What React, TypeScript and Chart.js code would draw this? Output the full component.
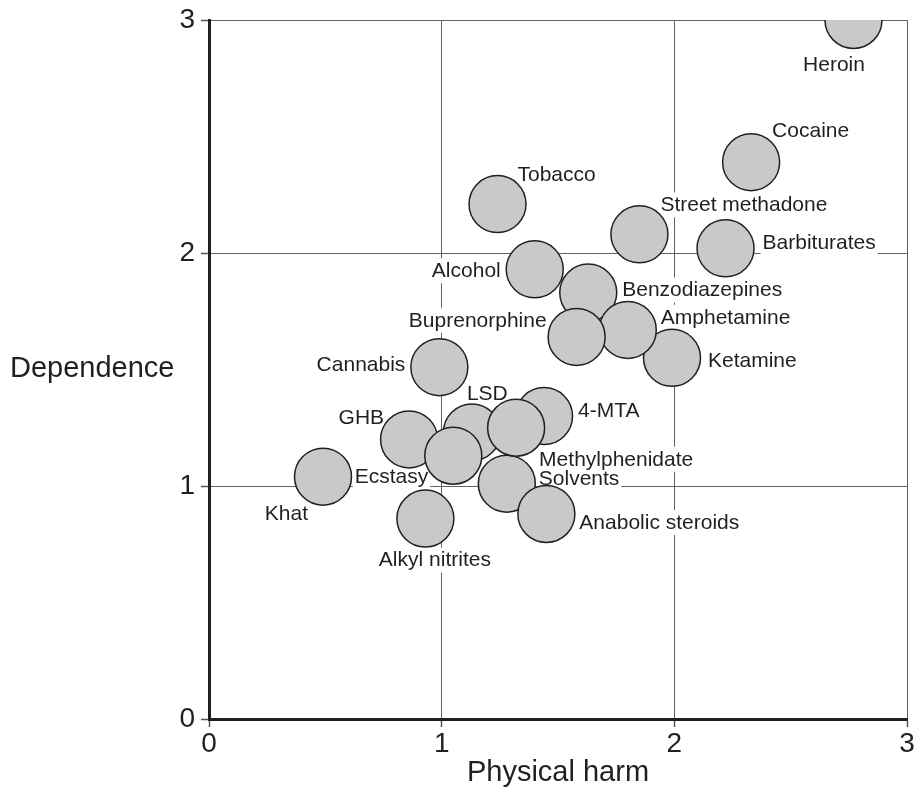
import React, { useEffect, useRef } from 'react';
import { Chart, registerables } from 'chart.js';

Chart.register(...registerables);

// ---- data ----
const drugs = [
  'Heroin', 'Cocaine', 'Barbiturates', 'Street methadone', 'Alcohol', 'Ketamine',
  'Benzodiazepines', 'Amphetamine', 'Tobacco', 'Buprenorphine', 'Cannabis', 'Solvents',
  '4-MTA', 'LSD', 'Methylphenidate', 'Anabolic steroids', 'GHB', 'Ecstasy',
  'Alkyl nitrites', 'Khat',
];
const physicalHarm = [
  2.77, 2.33, 2.22, 1.85, 1.40, 1.99,
  1.63, 1.80, 1.24, 1.58, 0.99, 1.28,
  1.44, 1.13, 1.32, 1.45, 0.86, 1.05,
  0.93, 0.49,
];
const dependence = [
  3.00, 2.39, 2.02, 2.08, 1.93, 1.55,
  1.83, 1.67, 2.21, 1.64, 1.51, 1.01,
  1.30, 1.23, 1.25, 0.88, 1.20, 1.13,
  0.86, 1.04,
];
const axisTicks = [0, 1, 2, 3];
const xTitle = 'Physical harm';
const yTitle = 'Dependence';

// ---- label placement (style: pixel offsets from bubble centre) ----
const labelOffsets: [number, number, 'left' | 'right' | 'center'][] = [
  [-19.5, 43.5, 'center'], // Heroin
  [21, -33, 'left'],       // Cocaine
  [37, -7, 'left'],        // Barbiturates
  [21, -31, 'left'],       // Street methadone
  [-34, 0, 'right'],       // Alcohol
  [36, 1, 'left'],         // Ketamine
  [34, -4, 'left'],        // Benzodiazepines
  [33, -14, 'left'],       // Amphetamine
  [20, -31, 'left'],       // Tobacco
  [-30, -18, 'right'],     // Buprenorphine
  [-34, -4, 'right'],      // Cannabis
  [32, -6, 'left'],        // Solvents
  [34, -7, 'left'],        // 4-MTA
  [-5, -40, 'left'],       // LSD
  [23, 30, 'left'],        // Methylphenidate
  [33, 7, 'left'],         // Anabolic steroids
  [-25, -23, 'right'],     // GHB
  [-25, 19, 'right'],      // Ecstasy
  [9.5, 40, 'center'],     // Alkyl nitrites
  [-15, 36, 'right'],      // Khat
];

const FONT = '"Liberation Sans", Arial, Helvetica, sans-serif';
const TEXT = '#231f20';

export default function App() {
  const ref = useRef<HTMLCanvasElement>(null);

  useEffect(() => {
    document.body.style.margin = '0';
    const canvas = ref.current!;

    const labelPlugin = {
      id: 'drugLabels',
      beforeDatasetsDraw(chart: any) {
        const ctx = chart.ctx as CanvasRenderingContext2D;
        const meta = chart.getDatasetMeta(0);
        ctx.save();
        ctx.font = `21px ${FONT}`;
        ctx.textBaseline = 'middle';
        ctx.textAlign = 'left';
        const items = meta.data.map((pt: any, i: number) => {
          const [dx, dy, align] = labelOffsets[i];
          const text = drugs[i];
          const w = ctx.measureText(text).width;
          const ax = pt.x + dx;
          const ay = pt.y + dy + 2;
          const left = align === 'left' ? ax : align === 'right' ? ax - w : ax - w / 2;
          return { text, w, left, ay };
        });
        ctx.fillStyle = '#ffffff';
        items.forEach((it: any) => ctx.fillRect(it.left - 2, it.ay - 13, it.w + 4, 25));
        ctx.fillStyle = TEXT;
        items.forEach((it: any) => ctx.fillText(it.text, it.left, it.ay));
        ctx.restore();
      },
    };

    const yTitlePlugin = {
      id: 'yTitleHorizontal',
      afterDraw(chart: any) {
        const ctx = chart.ctx as CanvasRenderingContext2D;
        ctx.save();
        ctx.font = `29px ${FONT}`;
        ctx.fillStyle = TEXT;
        ctx.textAlign = 'left';
        ctx.textBaseline = 'alphabetic';
        const cy = (chart.chartArea.top + chart.chartArea.bottom) / 2;
        ctx.fillText(yTitle, 10, cy + 7.5);
        ctx.restore();
      },
    };

    const tickFont = { family: FONT, size: 28 };

    const chart = new Chart(canvas, {
      type: 'scatter',
      data: {
        datasets: [
          {
            label: 'Drugs',
            data: physicalHarm.map((x, i) => ({ x, y: dependence[i] })),
            pointRadius: 28.5,
            pointHoverRadius: 28.5,
            pointBackgroundColor: '#c8c9cb',
            pointBorderColor: '#231f20',
            pointBorderWidth: 1.5,
            pointHoverBorderWidth: 1.5,
            clip: 0,
          } as any,
        ],
      },
      options: {
        animation: false,
        responsive: false,
        events: [],
        layout: { autoPadding: false, padding: { top: 20, right: 8, left: 0, bottom: 0 } },
        plugins: {
          legend: { display: false },
          tooltip: { enabled: false },
        },
        scales: {
          x: {
            type: 'linear',
            min: 0,
            max: 3,
            afterBuildTicks: (s: any) => {
              s.ticks = axisTicks.map((v) => ({ value: v }));
            },
            ticks: { font: tickFont, color: TEXT, padding: 0, maxRotation: 0 },
            grid: { color: '#626262', lineWidth: 1, tickLength: 8, tickColor: '#555', tickWidth: 1.5 },
            border: { color: '#231f20', width: 3 },
            title: {
              display: true,
              text: xTitle,
              font: { family: FONT, size: 29 },
              color: TEXT,
              padding: { top: 0, bottom: 1 },
            },
            afterFit: (s: any) => {
              s.height = 72;
              s.paddingLeft = 0;
              s.paddingRight = 0;
            },
          },
          y: {
            type: 'linear',
            min: 0,
            max: 3,
            afterBuildTicks: (s: any) => {
              s.ticks = axisTicks.map((v) => ({ value: v }));
            },
            ticks: { font: tickFont, color: TEXT, padding: 6 },
            grid: { color: '#626262', lineWidth: 1, tickLength: 8, tickColor: '#555', tickWidth: 1.5 },
            border: { color: '#231f20', width: 3 },
            afterFit: (s: any) => {
              s.width = 209;
              s.paddingTop = 0;
              s.paddingBottom = 0;
            },
          },
        },
      } as any,
      plugins: [labelPlugin, yTitlePlugin],
    });

    return () => chart.destroy();
  }, []);

  return (
    <div style={{ width: 915, height: 791 }}>
      <canvas ref={ref} width={915} height={791} style={{ display: 'block', width: 915, height: 791 }} />
    </div>
  );
}
